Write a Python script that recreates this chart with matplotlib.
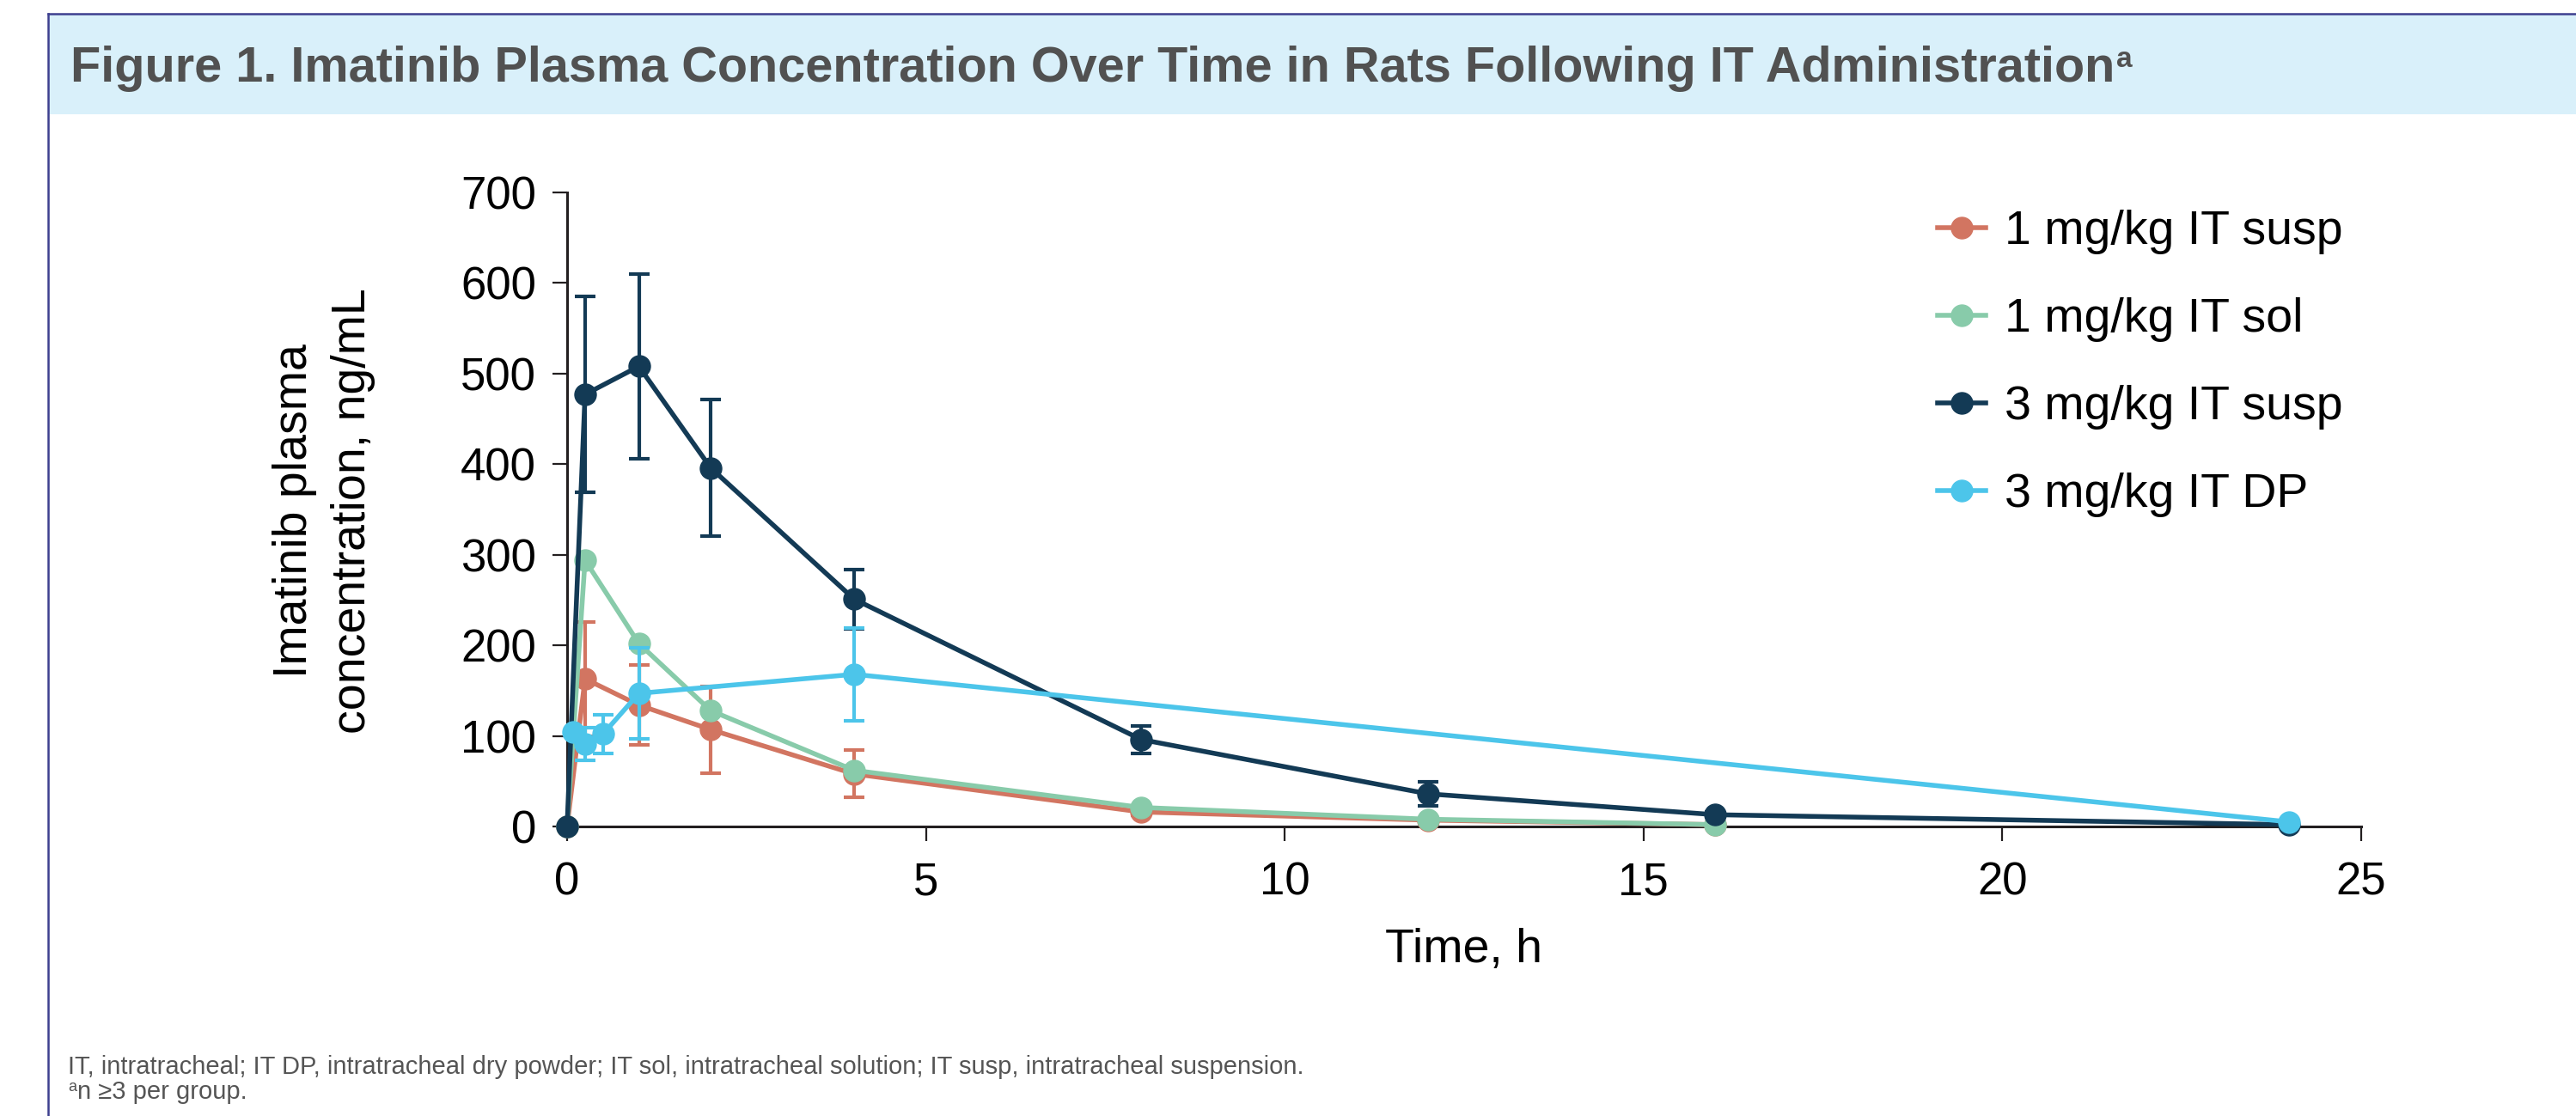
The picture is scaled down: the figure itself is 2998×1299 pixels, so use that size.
import matplotlib
matplotlib.use("Agg")
import matplotlib.pyplot as plt
from matplotlib.patches import Rectangle
from matplotlib.lines import Line2D

plt.rcParams["font.family"] = ["Liberation Sans", "DejaVu Sans"]

# ---------------------------------------------------------------------------
# data
# ---------------------------------------------------------------------------
series_labels = ["1 mg/kg IT susp", "1 mg/kg IT sol", "3 mg/kg IT susp", "3 mg/kg IT DP"]

t_1susp = [0, 0.25, 1, 2, 4, 8, 12, 16]
c_1susp = [0, 163, 134, 107, 58, 16, 7, 2]
e_1susp = [0, 63, 44, 48, 26, 4, 2, 1]

t_1sol = [0, 0.25, 1, 2, 4, 8, 12, 16]
c_1sol = [0, 294, 202, 128, 62, 21, 8, 2]

t_3susp = [0, 0.25, 1, 2, 4, 8, 12, 16, 24]
c_3susp = [0, 477, 508, 396, 251, 96, 36, 13, 2]
e_3susp = [0, 108, 102, 75, 33, 15, 13, 3, 1]

t_3dp = [0.083, 0.25, 0.5, 1, 4, 24]
c_3dp = [104, 91, 102, 147, 168, 5]
e_3dp = [0, 18, 21, 50, 51, 0]

x_ticks = [0, 5, 10, 15, 20, 25]
y_ticks = [0, 100, 200, 300, 400, 500, 600, 700]

colors = ["#D27561", "#88CBAA", "#133A55", "#4CC5EA"]

W, H = 2998, 1299
fig = plt.figure(figsize=(W / 100, H / 100), dpi=100)

# header band + frame
fig.patches.append(Rectangle((57 / W, 1 - 133 / H), 1, 116 / H, transform=fig.transFigure,
                             facecolor="#D9F0FA", edgecolor="none", zorder=0))
fig.add_artist(Line2D([56 / W, 1], [1 - 16 / H, 1 - 16 / H], transform=fig.transFigure,
                      color="#3D3F8F", lw=1.8))
fig.add_artist(Line2D([56 / W, 56 / W], [0, 1 - 16 / H], transform=fig.transFigure,
                      color="#3D3F8F", lw=1.8))

title = fig.text(82 / W, 1 - 95 / H,
                 "Figure 1. Imatinib Plasma Concentration Over Time in Rats Following IT Administration",
                 fontsize=41.5, fontweight="bold", color="#515151", va="baseline", ha="left")

# axes
ax = fig.add_axes([660 / W, 1 - 962 / H, 2088 / W, 738 / H])

ms = 18
lw = 4.0
eb = dict(capsize=8.5, capthick=3, elinewidth=3, clip_on=False)
ax.errorbar(t_1susp, c_1susp, yerr=e_1susp, color=colors[0], lw=lw, marker="o", ms=ms,
            zorder=3, **eb)
ax.plot(t_1sol, c_1sol, color=colors[1], lw=lw, marker="o", ms=ms, clip_on=False, zorder=4)
ax.errorbar(t_3susp, c_3susp, yerr=e_3susp, color=colors[2], lw=lw, marker="o", ms=ms,
            zorder=5, **eb)
ax.errorbar(t_3dp, c_3dp, yerr=e_3dp, color=colors[3], lw=lw, marker="o", ms=ms,
            zorder=6, **eb)

ax.set_xlim(0, 25)
ax.set_ylim(0, 700)
ax.set_xticks(x_ticks)
ax.set_yticks(y_ticks)
for s in ["top", "right"]:
    ax.spines[s].set_visible(False)
for s in ["left", "bottom"]:
    ax.spines[s].set_color("#231F20")
    ax.spines[s].set_linewidth(2.2)
ax.tick_params(axis="both", direction="out", length=12, width=1.6, colors="#231F20",
               labelcolor="black", labelsize=38, pad=14)
ax.tick_params(axis="x", pad=17)

ax.set_xlabel("Time, h", fontsize=40, color="black")
ax.xaxis.set_label_coords(0.5, -0.16)
ax.xaxis.label.set_va("top")

fig.text(377 / W, 1 - 595 / H, "Imatinib plasma\nconcentration, ng/mL", rotation=90,
         ha="center", va="center", multialignment="center", fontsize=40, color="black",
         linespacing=1.4)

handles = [Line2D([], [], color=c, lw=lw, marker="o", ms=ms) for c in colors]
fig.legend(handles, series_labels, loc="upper left", bbox_to_anchor=(2255 / W, 1 - 244 / H),
           frameon=False, fontsize=40, borderpad=0, borderaxespad=0, handlelength=1.0,
           handletextpad=0.4, labelspacing=0.9)

# footnotes
fig.text(79 / W, 1 - 1250 / H,
         "IT, intratracheal; IT DP, intratracheal dry powder; IT sol, intratracheal solution; "
         "IT susp, intratracheal suspension.",
         fontsize=21, color="#555555", va="baseline")
sup_a = fig.text(79 / W, 1 - 1270 / H, "a", fontsize=13, color="#555555", va="baseline")

renderer = fig.canvas.get_renderer()
bb = title.get_window_extent(renderer)
fig.text(bb.x1 / W + 2 / W, 1 - 78 / H, "a", fontsize=24, fontweight="bold", color="#515151",
         va="baseline")
bb_a = sup_a.get_window_extent(renderer)
fig.text(bb_a.x1 / W + 1 / W, 1 - 1279 / H, "n \u22653 per group.", fontsize=21, color="#555555",
         va="baseline")

fig.savefig("out.png", dpi=100)
